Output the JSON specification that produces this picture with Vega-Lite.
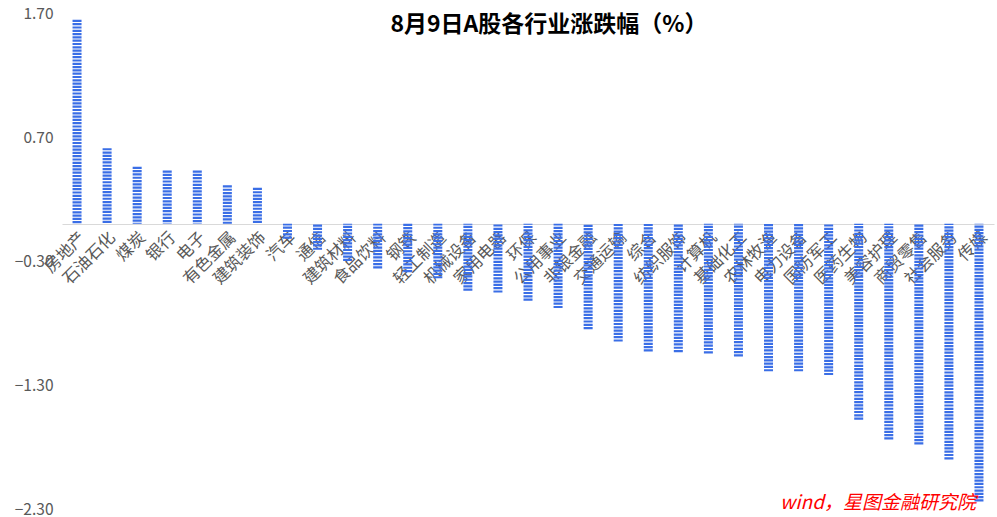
{
  "$schema": "https://vega.github.io/schema/vega-lite/v6.json",
  "width": 932,
  "height": 496,
  "autosize": {"type": "none"},
  "padding": {"left": 62, "top": 13, "right": 3, "bottom": 8},
  "background": "white",
  "config": {"view": {"stroke": null}},
  "title": {
    "text": "8月9日A股各行业涨跌幅（%）",
    "font": "Noto Sans CJK SC",
    "fontSize": 23,
    "fontWeight": "bold",
    "color": "#000000",
    "anchor": "middle",
    "offset": -20,
    "dy": 11,
    "dx": 21
  },
  "data": {
    "values": [
      {"industry": "房地产", "change": 1.645},
      {"industry": "石油石化", "change": 0.61},
      {"industry": "煤炭", "change": 0.46},
      {"industry": "银行", "change": 0.43},
      {"industry": "电子", "change": 0.43},
      {"industry": "有色金属", "change": 0.31},
      {"industry": "建筑装饰", "change": 0.29},
      {"industry": "汽车", "change": -0.12},
      {"industry": "通信", "change": -0.21},
      {"industry": "建筑材料", "change": -0.30},
      {"industry": "食品饮料", "change": -0.36},
      {"industry": "钢铁", "change": -0.39},
      {"industry": "轻工制造", "change": -0.44},
      {"industry": "机械设备", "change": -0.54},
      {"industry": "家用电器", "change": -0.555},
      {"industry": "环保", "change": -0.62},
      {"industry": "公用事业", "change": -0.68},
      {"industry": "非银金融", "change": -0.85},
      {"industry": "交通运输", "change": -0.95},
      {"industry": "综合", "change": -1.03},
      {"industry": "纺织服饰", "change": -1.035},
      {"industry": "计算机", "change": -1.045},
      {"industry": "基础化工", "change": -1.07},
      {"industry": "农林牧渔", "change": -1.19},
      {"industry": "电力设备", "change": -1.19},
      {"industry": "国防军工", "change": -1.22},
      {"industry": "医药生物", "change": -1.58},
      {"industry": "美容护理", "change": -1.74},
      {"industry": "商贸零售", "change": -1.78},
      {"industry": "社会服务", "change": -1.90},
      {"industry": "传媒", "change": -2.24}
    ]
  },
  "layer": [
    {
      "mark": {"type": "rule", "strokeWidth": 9, "strokeDash": [2.2, 1.1], "color": "#3A6EE6", "strokeCap": "butt"},
      "encoding": {
        "x": {
          "field": "industry",
          "type": "nominal",
          "sort": null,
          "scale": {"paddingInner": 0, "paddingOuter": 0},
          "axis": {
            "orient": "bottom",
            "offset": -285,
            "title": null,
            "labelAngle": -45,
            "labelFont": "Noto Sans CJK SC",
            "labelFontSize": 16.5,
            "labelColor": "#595959",
            "labelPadding": 5,
            "labelOverlap": false,
            "labelLimit": 200,
            "ticks": false,
            "domainColor": "#d9d9d9",
            "domainWidth": 1,
            "grid": false
          }
        },
        "y": {
          "field": "change",
          "type": "quantitative",
          "scale": {"domain": [-2.3, 1.7], "nice": false, "zero": false},
          "axis": {
            "title": null,
            "values": [1.7, 0.7, -0.3, -1.3, -2.3],
            "format": ".2f",
            "labelFont": "Noto Sans CJK SC",
            "labelFontSize": 15.5,
            "labelColor": "#595959",
            "labelPadding": 9,
            "ticks": false,
            "domain": false,
            "grid": false
          }
        },
        "y2": {"datum": 0}
      }
    },
    {
      "data": {"values": [{"source": "wind，星图金融研究院"}]},
      "mark": {"type": "text", "align": "right", "baseline": "alphabetic", "font": "Noto Sans CJK SC", "fontSize": 19, "fontStyle": "italic", "color": "#FF0000", "dx": -3},
      "encoding": {
        "text": {"field": "source"},
        "x": {"datum": "传媒"},
        "y": {"datum": -2.3}
      }
    }
  ]
}
